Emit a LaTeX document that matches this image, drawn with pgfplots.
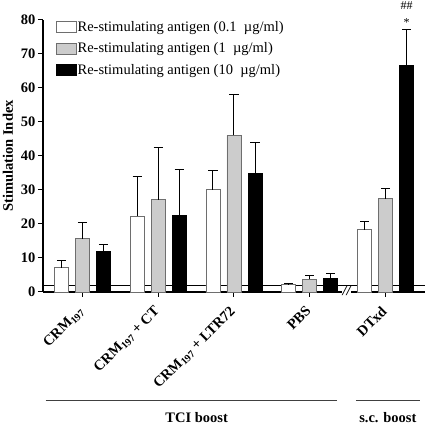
\documentclass[border=0pt]{standalone}
\usepackage{fontspec}
\setmainfont{Liberation Serif}
\usepackage{pgfplots}
\pgfplotsset{compat=1.18}
\definecolor{barg}{RGB}{204,204,204}
\definecolor{edgeg}{RGB}{110,110,110}
\begin{document}
\begin{tikzpicture}[font=\fontsize{14.5bp}{17bp}\selectfont]
\begin{axis}[
  name=ax,
  scale only axis,
  width=382bp, height=272bp,
  xmin=-0.52, xmax=4.52,
  ymin=0, ymax=80,
  axis lines*=left,
  axis line style={line width=1.2bp},
  xtick={0,1,2,3,4},
  xticklabels={CRM\textsubscript{197}, CRM\textsubscript{197} + CT, CRM\textsubscript{197} + LTR72, PBS, DTxd},
  ytick={0,10,...,80},
  tick align=outside,
  major tick length=5bp,
  tick style={line width=1bp, black},
  xtick pos=left, ytick pos=left,
  /pgf/number format/assume math mode=true,
  ticklabel style={font=\fontsize{14.5bp}{17bp}\selectfont\bfseries},
  yticklabel style={xshift=1bp},
  xticklabel style={xshift=-5bp, yshift=-6.5bp, rotate=45, anchor=north east, inner sep=1bp},
  ylabel={\textbf{Stimulation Index}},
  ylabel style={yshift=1bp},
  ybar=7bp,
  bar width=14bp,
  clip=false,
  legend style={draw=none, fill=none, at={(rel axis cs:0.033,1)}, anchor=north west, inner sep=0pt,
    row sep=8bp, nodes={inner sep=1bp}, font=\fontsize{14.5bp}{17bp}\selectfont},
  legend cell align=left,
  legend image code/.code={\draw[#1] (0bp,-5.5bp) rectangle (20bp,5.5bp);},
  error bars/y dir=plus,
  error bars/y explicit,
  error bars/error bar style={line width=1bp, black},
  error bars/error mark options={rotate=90, mark size=4.5bp, line width=1bp, black},
]
\draw[line width=1bp, black] (axis cs:-0.52,2) -- (axis cs:4.52,2);
\addplot[draw=edgeg, fill=white, line width=0.8bp] coordinates {
  (0,7.2) +- (0,2.1)
  (1,22.3) +- (0,11.7)
  (2,30.1) +- (0,5.7)
  (3,2.2) +- (0,0.3)
  (4,18.3) +- (0,2.5)
};
\addplot[draw=edgeg, fill=barg, line width=0.8bp] coordinates {
  (0,15.7) +- (0,4.8)
  (1,27.1) +- (0,15.4)
  (2,46.1) +- (0,12.0)
  (3,3.8) +- (0,1.1)
  (4,27.4) +- (0,2.9)
};
\addplot[draw=black, fill=black, line width=0.8bp] coordinates {
  (0,11.9) +- (0,2.0)
  (1,22.4) +- (0,13.6)
  (2,34.8) +- (0,9.3)
  (3,3.9) +- (0,1.4)
  (4,66.6) +- (0,10.5)
};
\legend{Re-stimulating antigen (0.1~ µg/ml), Re-stimulating antigen (1~ µg/ml), Re-stimulating antigen (10~ µg/ml)}
\node[font=\fontsize{12bp}{14bp}\selectfont] at (axis cs:4.277,79.2) {*};
\node[font=\fontsize{12bp}{14bp}\selectfont] at (axis cs:4.277,84.1) {\#\#};
\node[font=\fontsize{14bp}{16bp}\selectfont\bfseries\itshape, fill=white, inner sep=0.3bp] at (axis cs:3.486,0.3) {//};
\draw[line width=1bp, black!75] ([yshift=-109bp]axis cs:-0.486,0) -- ([yshift=-109bp]axis cs:3.354,0);
\draw[line width=1bp, black!75] ([yshift=-109bp]axis cs:3.608,0) -- ([yshift=-109bp]axis cs:4.45,0);
\node[anchor=base, font=\fontsize{14.5bp}{17bp}\selectfont\bfseries] at ([yshift=-130.3bp]axis cs:1.507,0) {TCI boost};
\node[anchor=base, font=\fontsize{14.5bp}{17bp}\selectfont\bfseries] at ([yshift=-130.3bp]axis cs:4.03,0) {s.c. boost};
\end{axis}
\pgfresetboundingbox
\path[use as bounding box] ([xshift=-43bp,yshift=-131bp]ax.south west) rectangle ([yshift=20bp]ax.north east);
\end{tikzpicture}
\end{document}
